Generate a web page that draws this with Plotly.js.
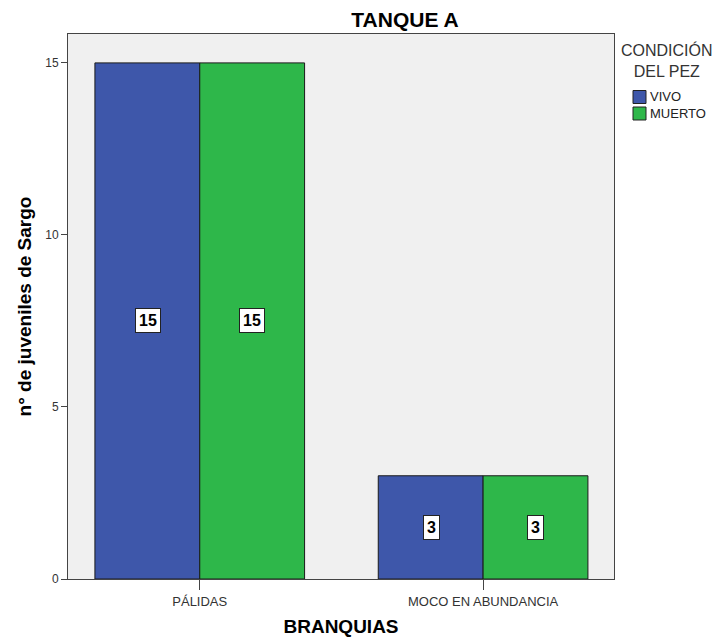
<!DOCTYPE html>
<html><head><meta charset="utf-8">
<script src="https://cdn.plot.ly/plotly-3.0.1.min.js"></script>
<style>body{margin:0;background:#fff}#c{width:720px;height:640px}</style>
</head><body><div id="c"></div>
<script>
const categories = ["PÁLIDAS", "MOCO EN ABUNDANCIA"];
const seriesNames = ["VIVO", "MUERTO"];
const vivo = [15, 3];
const muerto = [15, 3];
const colors = ["#3e57aa", "#2eb74a"];
const yTicks = [0, 5, 10, 15];
const legendTitle = "CONDICIÓN<br>DEL PEZ";

const series = [vivo, muerto];
const traces = series.map((vals, i) => ({
  type: "bar", x: categories, y: vals, name: seriesNames[i],
  marker: {color: colors[i], line: {color: "#1a1a1a", width: 1}},
  hoverinfo: "none", showlegend: false
}));

const M = {l: 68, r: 106, t: 34, b: 61};
const W = 720, H = 640;
const pw = W - M.l - M.r, ph = H - M.t - M.b;
const px2x = p => (p - M.l) / pw;
const py2y = p => (H - M.b - p) / ph;

const annotations = [];
series.forEach((vals, i) => {
  vals.forEach((v, j) => {
    annotations.push({
      x: categories[j], y: v / 2, xref: "x", yref: "y",
      text: "<b>" + v + "</b>", showarrow: false,
      xshift: (i === 0 ? -1 : 1) * 52,
      font: {family: "Liberation Sans, Arial", size: 16, color: "#000"},
      bgcolor: "#ffffff", bordercolor: "#222", borderwidth: 1, borderpad: 3
    });
  });
});

// legend (custom, to match the compact swatch/text layout)
const shapes = [];
annotations.push({
  x: px2x(667), y: py2y(60), xref: "paper", yref: "paper", xanchor: "center", yanchor: "middle",
  text: legendTitle, showarrow: false, align: "center",
  font: {family: "Liberation Sans, Arial", size: 16, color: "#333"}
});
seriesNames.forEach((name, i) => {
  const cy = 97 + i * 16.5;
  shapes.push({
    type: "rect", xref: "paper", yref: "paper",
    x0: px2x(633), x1: px2x(646), y0: py2y(cy - 6.5), y1: py2y(cy + 6.5),
    fillcolor: colors[i], line: {color: "#222", width: 1}
  });
  annotations.push({
    x: px2x(648), y: py2y(cy), xref: "paper", yref: "paper", xanchor: "left", yanchor: "middle",
    text: name, showarrow: false,
    font: {family: "Liberation Sans, Arial", size: 13, color: "#222"}
  });
});

const layout = {
  width: W, height: H,
  margin: M,
  paper_bgcolor: "#ffffff", plot_bgcolor: "#f0f0f0",
  font: {family: "Liberation Sans, Arial", color: "#333"},
  title: {text: "<b>TANQUE A</b>", x: 405 / W, xanchor: "center", y: 1 - 20 / H, yanchor: "middle",
          font: {size: 21, color: "#000"}},
  barmode: "group", bargap: 0.26, bargroupgap: 0,
  xaxis: {range: [-0.465, 1.462], showline: true, linecolor: "#444", linewidth: 1, mirror: true,
          ticks: "outside", ticklen: 10, tickcolor: "#444", showgrid: false, zeroline: false,
          tickfont: {size: 13, color: "#333"},
          title: {text: "<b>BRANQUIAS</b>", font: {size: 19, color: "#000"}, standoff: 12}},
  yaxis: {range: [0, 15.84], tickvals: yTicks, showline: true, linecolor: "#444", linewidth: 1, mirror: true,
          ticks: "outside", ticklen: 6, tickcolor: "#444", showgrid: false, zeroline: false,
          tickfont: {size: 12, color: "#333"},
          title: {text: "<b>n° de juveniles de Sargo</b>", font: {size: 19, color: "#000"}, standoff: 8}},
  annotations: annotations,
  shapes: shapes,
  showlegend: false
};
Plotly.newPlot("c", traces, layout, {staticPlot: true});
</script></body></html>
